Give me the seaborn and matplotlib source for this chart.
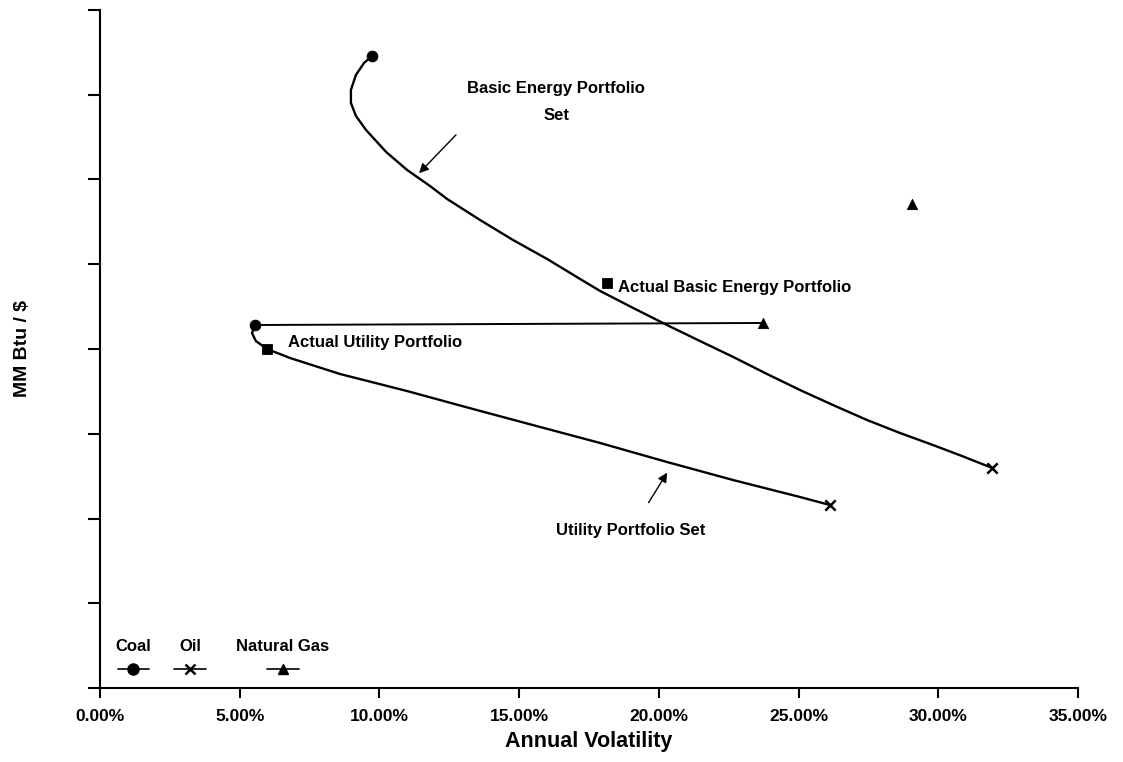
import matplotlib
matplotlib.use("Agg")
import matplotlib.pyplot as plt
import seaborn as sns
import pandas as pd
from matplotlib.lines import Line2D
from matplotlib.ticker import FuncFormatter, MultipleLocator

sns.set_theme(style="white")
plt.rcParams['font.family'] = ['Liberation Sans', 'DejaVu Sans']
plt.rcParams['font.weight'] = 'bold'
plt.rcParams['text.color'] = 'black'
plt.rcParams['axes.labelcolor'] = 'black'
plt.rcParams['xtick.color'] = 'black'
plt.rcParams['ytick.color'] = 'black'

# Basic Energy Portfolio Set (volatility %, MM Btu/$)
basic_x = [9.74, 9.45, 9.16, 8.98, 8.98, 9.16, 9.52, 10.24, 10.99, 11.81, 12.42,
           13.60, 14.78, 16.00, 17.18, 17.90, 19.08, 20.29, 21.47, 22.66, 23.87,
           25.05, 26.23, 27.45, 28.63, 29.81, 30.85, 31.93]
basic_y = [7.457, 7.375, 7.233, 7.056, 6.903, 6.749, 6.584, 6.324, 6.112, 5.923, 5.770,
           5.522, 5.286, 5.062, 4.826, 4.684, 4.484, 4.283, 4.094, 3.906, 3.705,
           3.516, 3.339, 3.162, 3.009, 2.867, 2.737, 2.596]

# Utility Portfolio Set
util_x = [5.55, 5.44, 5.58, 5.98, 6.80, 8.59, 10.99, 13.35, 15.75, 17.90,
          20.29, 22.66, 25.05, 26.13]
util_y = [4.283, 4.189, 4.094, 4.000, 3.894, 3.705, 3.504, 3.292, 3.080, 2.891,
          2.667, 2.454, 2.254, 2.159]

# Utility coal-gas line
util_gas_x = [5.55, 23.73]
util_gas_y = [4.283, 4.307]

# Single asset points
coal_x = [9.74, 5.55]
coal_y = [7.457, 4.283]
oil_x = [31.93, 26.13]
oil_y = [2.596, 2.159]
gas_x = [29.06, 23.73]
gas_y = [5.711, 4.307]

# Actual portfolios
actual_names = ["Actual Basic Energy Portfolio", "Actual Utility Portfolio"]
actual_x = [18.15, 5.98]
actual_y = [4.779, 4.000]

x_ticks = [0, 5, 10, 15, 20, 25, 30, 35]

fig = plt.figure(figsize=(11.23, 7.62), dpi=100)
ax = fig.add_axes([0.089, 0.097, 0.871, 0.89])

basic_df = pd.DataFrame({"x": basic_x, "y": basic_y})
util_df = pd.DataFrame({"x": util_x, "y": util_y})
ug_df = pd.DataFrame({"x": util_gas_x, "y": util_gas_y})

for df in (basic_df, util_df):
    sns.lineplot(data=df, x="x", y="y", sort=False, estimator=None, color="black",
                 linewidth=1.7, ax=ax)
sns.lineplot(data=ug_df, x="x", y="y", sort=False, estimator=None, color="black",
             linewidth=1.4, ax=ax)

sns.scatterplot(x=coal_x, y=coal_y, marker="o", s=60, color="black", edgecolor="black", ax=ax, zorder=5)
sns.scatterplot(x=oil_x, y=oil_y, marker="x", s=55, color="black", linewidth=1.8, ax=ax, zorder=5)
sns.scatterplot(x=gas_x, y=gas_y, marker="^", s=55, color="black", edgecolor="black", ax=ax, zorder=5)
sns.scatterplot(x=actual_x, y=actual_y, marker="s", s=55, color="black", edgecolor="black", ax=ax, zorder=5)

ax.text(actual_x[0] + 0.4, actual_y[0] - 0.05, actual_names[0], fontsize=12,
        fontweight="bold", va="center", ha="left")
ax.text(actual_x[1] + 0.75, actual_y[1] + 0.08, actual_names[1], fontsize=12,
        fontweight="bold", va="center", ha="left")

ax.text(16.32, 7.07, "Basic Energy Portfolio", fontsize=12, fontweight="bold",
        ha="center", va="center")
ax.text(16.32, 6.75, "Set", fontsize=12, fontweight="bold",
        ha="center", va="center")
ax.annotate("", xy=(11.35, 6.05), xytext=(12.81, 6.55),
            arrowprops=dict(arrowstyle="-|>", color="black", lw=1.0, mutation_scale=14))

ax.text(19.0, 1.86, "Utility Portfolio Set", fontsize=12, fontweight="bold",
        ha="center", va="center")
ax.annotate("", xy=(20.35, 2.57), xytext=(19.58, 2.16),
            arrowprops=dict(arrowstyle="-|>", color="black", lw=1.0, mutation_scale=14))

# legend (labels above handles)
legend_items = [("Coal", "o", 0.034), ("Oil", "x", 0.092), ("Natural Gas", "^", 0.187)]
for lab, mk, xc in legend_items:
    ax.text(xc, 0.061, lab, transform=ax.transAxes, fontsize=12, fontweight="bold",
            ha="center", va="center")
    ax.add_line(Line2D([xc - 0.016, xc + 0.016], [0.028, 0.028], transform=ax.transAxes,
                       color="black", lw=1.2, marker=None))
    ax.add_line(Line2D([xc], [0.028], transform=ax.transAxes, color="black",
                       marker=mk, markersize=8 if mk == "o" else 7,
                       markeredgewidth=1.8 if mk == "x" else 1.0, linestyle="none"))

ax.set_xlim(0, 35)
ax.set_ylim(0, 8)
ax.set_xticks(x_ticks)
ax.xaxis.set_major_formatter(FuncFormatter(lambda v, p: f"{v:.2f}%"))
ax.yaxis.set_major_locator(MultipleLocator(1))
ax.set_yticklabels([])
ax.tick_params(axis="both", direction="out", width=1.5, color="black",
               bottom=True, left=True)
ax.tick_params(axis="x", length=7, labelsize=12.5, pad=8)
ax.tick_params(axis="y", length=8.5)
for lbl in ax.get_xticklabels():
    lbl.set_fontweight("bold")

sns.despine(ax=ax)
for sp in ("left", "bottom"):
    ax.spines[sp].set_color("black")
    ax.spines[sp].set_linewidth(1.5)

ax.set_xlabel("Annual Volatility", fontsize=15.5, fontweight="bold", labelpad=5)
ax.set_ylabel("MM Btu / $", fontsize=14, fontweight="bold", labelpad=38)

fig.savefig("out.png", dpi=100)
